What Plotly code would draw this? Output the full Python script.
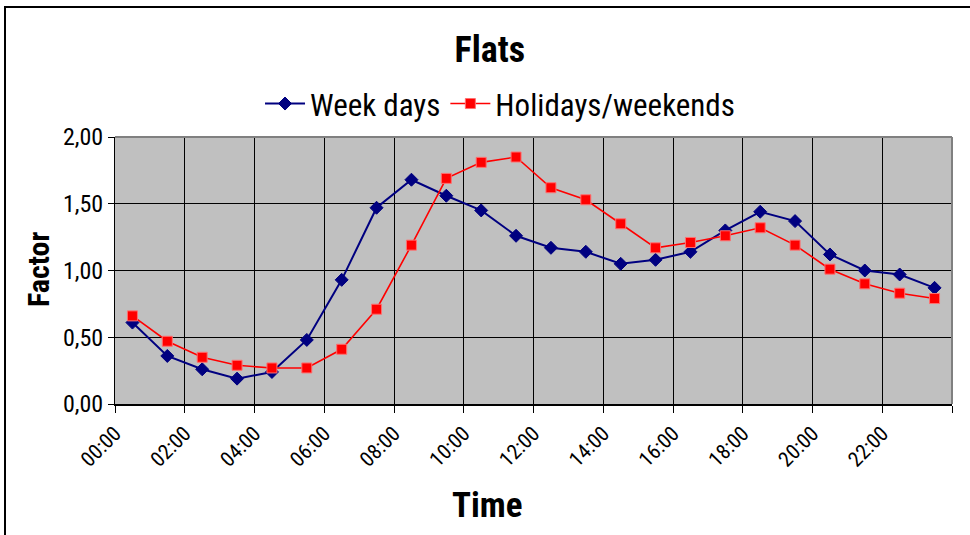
import plotly.graph_objects as go

# Hourly load factors for flats; each value sits at the middle of its hour
hour_mid = [0.5, 1.5, 2.5, 3.5, 4.5, 5.5, 6.5, 7.5, 8.5, 9.5, 10.5, 11.5,
            12.5, 13.5, 14.5, 15.5, 16.5, 17.5, 18.5, 19.5, 20.5, 21.5, 22.5, 23.5]

week_days = [0.61, 0.36, 0.26, 0.19, 0.24, 0.48, 0.93, 1.47, 1.68, 1.56, 1.45, 1.26,
             1.17, 1.14, 1.05, 1.08, 1.14, 1.30, 1.44, 1.37, 1.12, 1.00, 0.97, 0.87]

holidays = [0.66, 0.47, 0.35, 0.29, 0.27, 0.27, 0.41, 0.71, 1.19, 1.69, 1.81, 1.85,
            1.62, 1.53, 1.35, 1.17, 1.21, 1.26, 1.32, 1.19, 1.01, 0.90, 0.83, 0.79]

tick_hours = [0, 2, 4, 6, 8, 10, 12, 14, 16, 18, 20, 22, 24]
tick_text = ["00:00", "02:00", "04:00", "06:00", "08:00", "10:00", "12:00",
             "14:00", "16:00", "18:00", "20:00", "22:00", ""]

NARROW = "Liberation Sans Narrow, Arial Narrow, Roboto Condensed, Liberation Sans, sans-serif"

fig = go.Figure()
fig.add_trace(go.Scatter(
    x=hour_mid, y=week_days, name="Week days", mode="lines+markers",
    line=dict(color="#000080", width=2),
    marker=dict(symbol="diamond", size=10, color="#000080",
                line=dict(color="#000080", width=1)),
))
fig.add_trace(go.Scatter(
    x=hour_mid, y=holidays, name="Holidays/weekends", mode="lines+markers",
    line=dict(color="#FF0000", width=1.6),
    marker=dict(symbol="square", size=10, color="#FF0000",
                line=dict(color="#FF7070", width=1)),
))

fig.update_layout(
    width=970, height=535,
    margin=dict(l=115, r=18, t=137, b=131),
    paper_bgcolor="white",
    plot_bgcolor="#C0C0C0",
    font=dict(family=NARROW, color="black"),
    title=dict(text="<b>Flats</b>", x=0.505, xanchor="center",
               y=1 - 49 / 535, yanchor="middle",
               font=dict(family=NARROW, size=36, color="black")),
    showlegend=True,
    legend=dict(orientation="h", x=0.46, xanchor="center", y=1.124, yanchor="middle",
                font=dict(family=NARROW, size=31, color="black"),
                bgcolor="rgba(0,0,0,0)", itemwidth=40, tracegroupgap=0),
    xaxis=dict(
        range=[0, 24], tickmode="array", tickvals=tick_hours, ticktext=tick_text,
        tickangle=-45, tickfont=dict(family=NARROW, size=21, color="black"),
        showgrid=True, gridcolor="black", gridwidth=1,
        showline=True, linecolor="black", linewidth=2,
        ticks="outside", ticklen=7, tickcolor="black", tickwidth=1,
        zeroline=False, fixedrange=True,
    ),
    yaxis=dict(
        range=[0, 2], dtick=0.5, tickformat=".2f",
        tickfont=dict(family=NARROW, size=24, color="black"),
        showgrid=True, gridcolor="black", gridwidth=1,
        showline=True, linecolor="black", linewidth=1,
        ticks="outside", ticklen=6, tickcolor="black", tickwidth=1,
        zeroline=False, fixedrange=True,
    ),
    separators=",.",
)

# Gray top and right edges of the plot area
fig.add_shape(type="line", xref="paper", yref="paper", x0=0, x1=1, y0=1, y1=1,
              line=dict(color="#808080", width=2))
fig.add_shape(type="line", xref="paper", yref="paper", x0=1, x1=1, y0=0, y1=1,
              line=dict(color="#808080", width=2))

# Outer chart frame (left and top edges inside the page)
fig.add_shape(type="rect", xref="paper", yref="paper",
              x0=(5 - 115) / 837, x1=1.2, y0=-0.6, y1=(404 - 7) / 267,
              line=dict(color="black", width=2), fillcolor="rgba(0,0,0,0)", layer="below")

# Axis titles
fig.add_annotation(text="<b>Factor</b>", xref="paper", yref="paper",
                   x=(38 - 115) / 837, y=(404 - 270) / 267, textangle=-90,
                   showarrow=False, xanchor="center", yanchor="middle",
                   font=dict(family=NARROW, size=30, color="black"))
fig.add_annotation(text="<b>Time</b>", xref="paper", yref="paper",
                   x=(487 - 115) / 837, y=(404 - 505) / 267,
                   showarrow=False, xanchor="center", yanchor="middle",
                   font=dict(family=NARROW, size=35, color="black"))

fig.write_html("out.html")
